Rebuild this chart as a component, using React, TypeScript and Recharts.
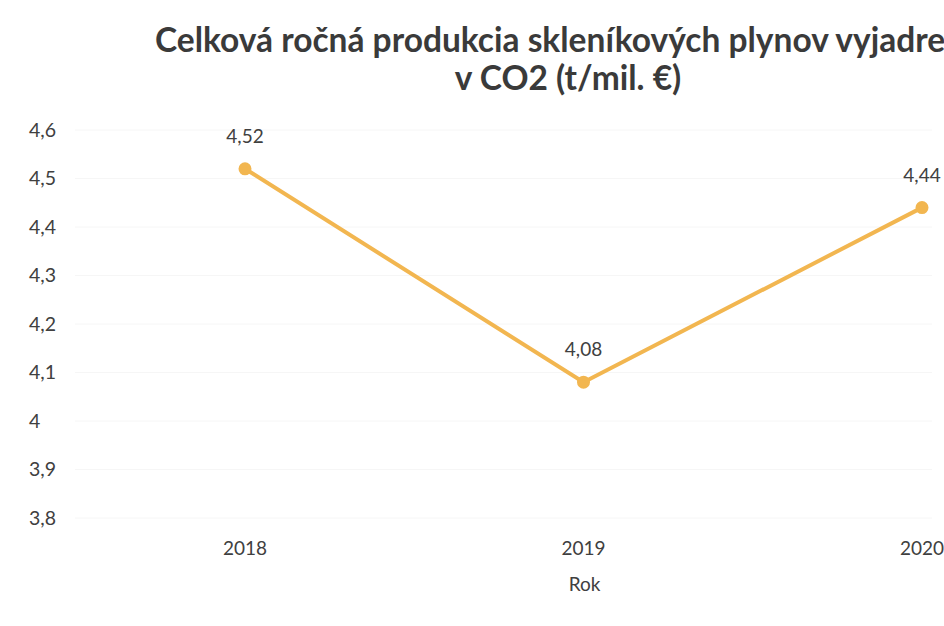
import { LineChart, Line, XAxis, YAxis, CartesianGrid, LabelList } from 'recharts'

// roky a hodnoty
const years = ['2018', '2019', '2020']
const co2Values = [4.52, 4.08, 4.44]
const yTicks = [3.8, 3.9, 4.0, 4.1, 4.2, 4.3, 4.4, 4.5, 4.6]

const data = years.map((rok, i) => ({ rok, value: co2Values[i] }))

const fmt = (v: number) => String(Number(v.toFixed(2))).replace('.', ',')

const FONT = 'Lato, "Open Sans", sans-serif'

export default function App() {
    return (
        <div style={{ position: 'absolute', left: 0, top: 0, width: 944, height: 626, background: '#fff', overflow: 'hidden', fontFamily: FONT }}>
            <div style={{ position: 'absolute', left: 155, top: 19, whiteSpace: 'nowrap', fontSize: 33.5, fontWeight: 700, color: '#3a3a3a', lineHeight: '40px' }}>
                Celková ročná produkcia skleníkových plynov vyjadrená
            </div>
            <div style={{ position: 'absolute', left: 0, top: 57, width: 1136, textAlign: 'center', whiteSpace: 'nowrap', fontSize: 33.5, fontWeight: 700, color: '#3a3a3a', lineHeight: '40px' }}>
                v CO2 (t/mil. €)
            </div>
            <div style={{ position: 'absolute', left: 0, top: 0 }}>
                <LineChart width={944} height={626} data={data} margin={{ top: 130, right: 12, bottom: 8, left: 0 }}>
                    <CartesianGrid vertical={false} stroke="#f6f6f6" />
                    <XAxis
                        dataKey="rok"
                        axisLine={false}
                        tickLine={false}
                        padding={{ left: 170, right: 10 }}
                        height={100}
                        tick={{ fill: '#404040', fontSize: 19, fontFamily: FONT }}
                        dy={16}
                        label={{ value: 'Rok', position: 'insideTop', offset: 60, fill: '#404040', fontSize: 19, fontFamily: FONT, dx: 81 }}
                    />
                    <YAxis
                        domain={[3.8, 4.6]}
                        ticks={yTicks}
                        axisLine={false}
                        tickLine={false}
                        width={75}
                        tickFormatter={fmt}
                        tick={{ fill: '#404040', fontSize: 19.5, fontFamily: FONT, textAnchor: 'start' }}
                        dx={-38}
                    />
                    <Line
                        type="linear"
                        dataKey="value"
                        stroke="#f2b650"
                        strokeWidth={4}
                        dot={{ r: 4.5, fill: '#f2b650', stroke: '#f2b650' }}
                        isAnimationActive={false}
                    >
                        <LabelList dataKey="value" position="top" offset={26} formatter={(v: any) => fmt(Number(v))} fill="#404040" fontSize={19} fontFamily={FONT} />
                    </Line>
                </LineChart>
            </div>
        </div>
    )
}
